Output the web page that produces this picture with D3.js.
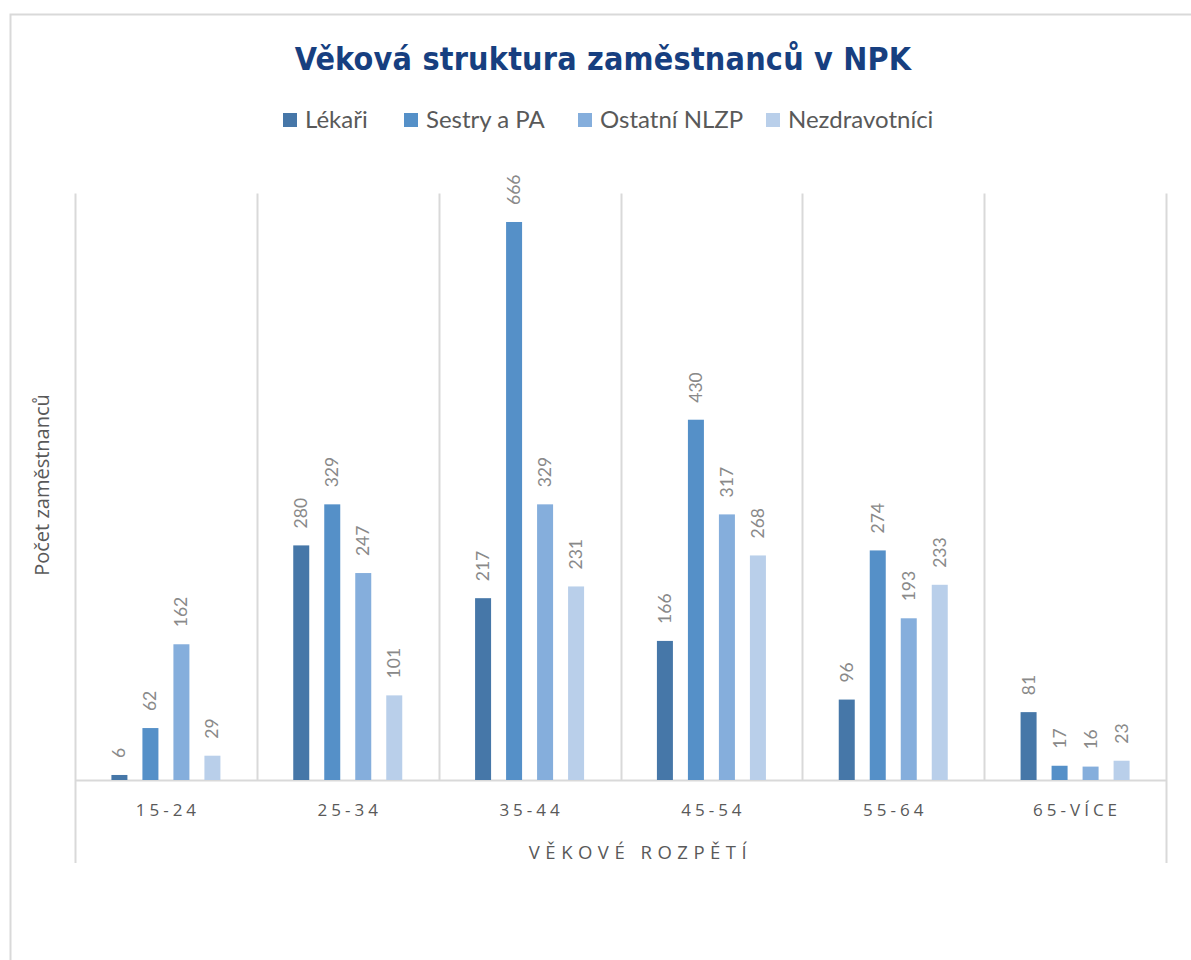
<!DOCTYPE html>
<html><head><meta charset="utf-8">
<script src="https://cdn.jsdelivr.net/npm/d3@7"></script>
<style>body{margin:0;background:#fff}</style>
</head><body>
<script>
const categories = ["15-24","25-34","35-44","45-54","55-64","65-VÍCE"];
const seriesNames = ["Lékaři","Sestry a PA","Ostatní NLZP","Nezdravotníci"];
const lekari = [6,280,217,166,96,81];
const sestry = [62,329,666,430,274,17];
const ostatni = [162,247,329,317,193,16];
const nezdrav = [29,101,231,268,233,23];
const colors = ["#4677A8","#5590C8","#85AEDC","#B9CFEA"];
const seriesValues = [lekari,sestry,ostatni,nezdrav];

(function(){
const W=1191,H=960;
const svg=d3.select("body").append("svg").attr("width",W).attr("height",H);
svg.append("path").attr("d","M10.5,960 L10.5,14.5 L1191,14.5").attr("fill","none").attr("stroke","#D9D9D9").attr("stroke-width",2);

const pLeft=75,pRight=1166,pTop=193.5,base=780;
const x=d3.scaleBand().domain(categories).range([pLeft,pRight]).padding(0);
const y=d3.scaleLinear().domain([0,700]).range([base,pTop]);
const x1=d3.scaleBand().domain(seriesNames).range([-62,62]).paddingInner(15/31).paddingOuter(7.5/31);

const bounds=categories.map(c=>x(c)).concat([pRight]);
bounds.forEach((b,i)=>{
  const isEdge = i===0||i===bounds.length-1;
  svg.append("line").attr("x1",Math.round(b)+0.5).attr("x2",Math.round(b)+0.5)
    .attr("y1",pTop).attr("y2",isEdge?863:base).attr("stroke","#D9D9D9").attr("stroke-width",2);
});
svg.append("line").attr("x1",pLeft).attr("x2",pRight).attr("y1",base+0.5).attr("y2",base+0.5).attr("stroke","#D9D9D9").attr("stroke-width",2);

seriesNames.forEach((s,si)=>{
  const g=svg.append("g");
  categories.forEach((c,ci)=>{
    const v=seriesValues[si][ci];
    const cx=x(c)+x.bandwidth()/2;
    g.append("rect").attr("x",cx+x1(s)).attr("width",x1.bandwidth())
      .attr("y",y(v)).attr("height",base-y(v)).attr("fill",colors[si]);
    const lx=cx+x1(s)+x1.bandwidth()/2+6, ly=y(v)-17;
    g.append("text").attr("transform",`translate(${lx},${ly}) rotate(-90)`)
      .attr("font-family","Lato, 'Open Sans', sans-serif").attr("font-size",17.5)
      .attr("fill","#898989").text(v);
  });
});

categories.forEach(c=>{
  svg.append("text").attr("x",x(c)+x.bandwidth()/2+2).attr("y",816).attr("text-anchor","middle")
    .attr("font-family","'Open Sans', sans-serif").attr("font-size",17).attr("letter-spacing","4px")
    .attr("fill","#595959").text(c);
});
svg.append("text").attr("x",(pLeft+pRight)/2+20).attr("y",859).attr("text-anchor","middle")
  .attr("font-family","'Open Sans', sans-serif").attr("font-size",18.5).attr("letter-spacing","5.5px")
  .attr("fill","#595959").text("VĚKOVÉ ROZPĚTÍ");
svg.append("text").attr("transform","translate(49,485) rotate(-90)").attr("text-anchor","middle")
  .attr("font-family","'Open Sans', sans-serif").attr("font-size",20)
  .attr("fill","#595959").text("Počet zaměstnanců");

svg.append("text").attr("x",603).attr("y",70).attr("text-anchor","middle")
  .attr("font-family","'DejaVu Sans Condensed', sans-serif").attr("font-weight","bold")
  .attr("font-size",32).attr("letter-spacing","0.2px").attr("fill","#173F80").text("Věková struktura zaměstnanců v NPK");

const legX=[283,404,578,766];
seriesNames.forEach((s,i)=>{
  svg.append("rect").attr("x",legX[i]).attr("y",113).attr("width",14).attr("height",14).attr("fill",colors[i]);
  svg.append("text").attr("x",legX[i]+22).attr("y",128).attr("font-family","Lato, sans-serif")
    .attr("font-size",24).attr("fill","#595959").text(s);
});
})();
</script>
</body></html>
